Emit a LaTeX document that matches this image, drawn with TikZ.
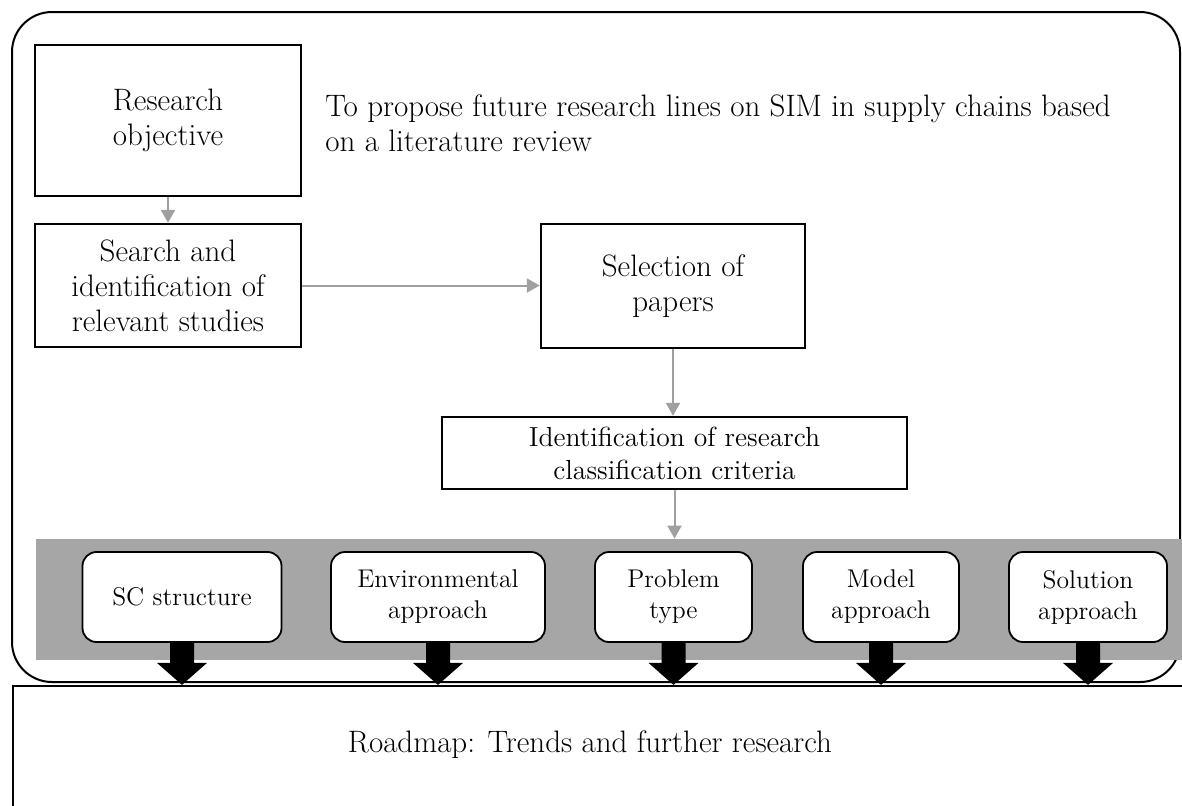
\documentclass[tikz,border=0pt]{standalone}
\usetikzlibrary{arrows.meta}
\definecolor{bandgray}{HTML}{A6A6A6}
\definecolor{flowgray}{HTML}{A0A0A0}
\newcommand{\bigtxt}{\fontsize{15.5}{17.5}\selectfont}
\newcommand{\smalltxt}{\fontsize{12.8}{15.5}\selectfont}
\tikzset{
    box/.style={draw, line width=1.2pt, align=center, inner sep=0pt, font=\bigtxt},
    tag/.style={draw, line width=0.9pt, fill=white, rounded corners=7pt, align=center,
        inner sep=0pt, minimum height=45pt, font=\smalltxt},
    flow/.style={draw=flowgray, line width=1pt, -{Triangle[length=6.5pt,width=7pt]}},
}
\begin{document}
\begin{tikzpicture}[x=0.5pt,y=-0.5pt]
    \useasboundingbox (0,0) rectangle (1182,805);
    \clip (0,0) rectangle (1182,805);
    \draw [line width=1pt, rounded corners=20pt] (12,12) rectangle (1180,682);
    \node [draw, line width=1pt, anchor=north west, minimum width=600pt, minimum height=80pt] (roadmap) at (12,685) {};
    \node [font=\bigtxt] (roadmaptext) at (590,745) {Roadmap: Trends and further research};

    \node [box, minimum width=133pt, minimum height=75.5pt] (objective) at (168,120.5) {Research\\objective};
    \node [anchor=west, align=left, inner sep=0pt, font=\bigtxt] (aim) at (325,123)
        {To propose future research lines on SIM in supply chains based\\on a literature review};
    \node [box, minimum width=133pt, minimum height=61.5pt] (search) at (168,285.5) {Search and\\identification of\\relevant studies};
    \node [box, minimum width=132pt, minimum height=62pt] (selection) at (673,286) {Selection of\\papers};
    \node [box, minimum width=232.5pt, minimum height=36pt, font=\fontsize{13.8}{16.5}\selectfont] (criteria) at (674.5,453)
        {Identification of research\\classification criteria};
    \node [fill=bandgray, inner sep=0pt, minimum width=573pt, minimum height=60.5pt] (band) at (609,599.5) {};

    \draw [flow] (objective) -- (search);
    \draw [flow] (search.east) -- (search.east -| selection.west);
    \draw [flow] (selection.south) -- (selection.south |- criteria.north);
    \draw [flow] (criteria.south) -- (criteria.south |- band.north);

    \foreach \n/\x/\w/\t in {sc/182/99.5/{SC structure},env/438/107/{Environmental\\approach},
        problem/673.5/78.5/{Problem\\type},model/881/78/{Model\\approach},solution/1088/79/{Solution\\approach}}
        {\node [tag, minimum width=\w pt] (\n) at (\x,597) {\t};
         \fill (\n.south) ++(-12,0) -- ++(0,20) -- ++(-13,0) -- ++(25,22) -- ++(25,-22) -- ++(-13,0) -- ++(0,-20) -- cycle;}
\end{tikzpicture}
\end{document}
